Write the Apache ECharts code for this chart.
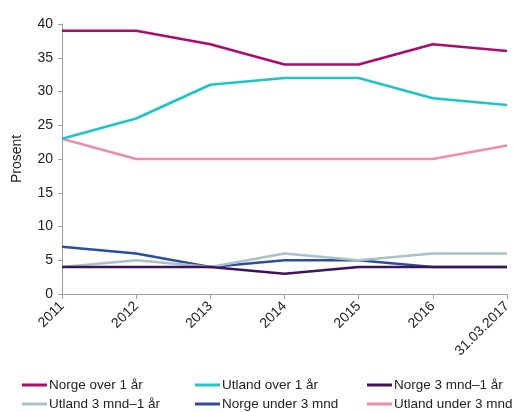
<!DOCTYPE html>
<html>
<head>
<meta charset="utf-8">
<script src="https://cdn.jsdelivr.net/npm/echarts@6/dist/echarts.min.js"></script>
<style>
  html, body { margin: 0; padding: 0; background: #fff; }
  #chart { width: 515px; height: 412px; }
</style>
</head>
<body>
<div id="chart"></div>
<script>
// Categories (years) along the x axis
const years = ['2011', '2012', '2013', '2014', '2015', '2016', '31.03.2017'];

// Share of respondents, in percent
const norgeOver1 = [39, 39, 37, 34, 34, 37, 36];
const utlandOver1 = [23, 26, 31, 32, 32, 29, 28];
const norge3mnd1 = [4, 4, 4, 3, 4, 4, 4];
const utland3mnd1 = [4, 5, 4, 6, 5, 6, 6];
const norgeUnder3 = [7, 6, 4, 5, 5, 4, 4];
const utlandUnder3 = [23, 20, 20, 20, 20, 20, 22];

const seriesNames = [
  'Norge over 1 år', 'Utland over 1 år', 'Norge 3 mnd–1 år',
  'Utland 3 mnd–1 år', 'Norge under 3 mnd', 'Utland under 3 mnd'
];
const seriesData = [norgeOver1, utlandOver1, norge3mnd1, utland3mnd1, norgeUnder3, utlandUnder3];
const colors = ['#ad0a6e', '#1dc6c6', '#3d1458', '#a8c3c8', '#2b4f9e', '#ee8cad'];

const font = 'Liberation Sans, Arial, sans-serif';

// Legend entries laid out in three columns and two rows
const legendCols = [22, 195, 367];
const legendRows = [378, 397];

const legends = seriesNames.map((name, i) => ({
  data: [name],
  left: legendCols[i % 3],
  top: legendRows[Math.floor(i / 3)],
  itemWidth: 25,
  itemHeight: 3,
  icon: 'rect',
  padding: 0,
  selectedMode: false,
  textStyle: { fontFamily: font, fontSize: 13.5, color: '#222', padding: [0, 0, 0, -3] }
}));

const chart = echarts.init(document.getElementById('chart'), null, { renderer: 'canvas' });
chart.setOption({
  animation: false,
  color: colors,
  grid: { left: 62, right: 8, top: 24, bottom: 118, containLabel: false },
  legend: legends,
  xAxis: {
    type: 'category',
    data: years,
    boundaryGap: false,
    axisLine: { lineStyle: { color: '#a0a0a0', width: 1 } },
    axisTick: { show: true, length: 5, alignWithLabel: true, lineStyle: { color: '#a0a0a0' } },
    axisLabel: {
      rotate: 45,
      margin: 10,
      interval: 0,
      fontFamily: font,
      fontSize: 14,
      color: '#222'
    }
  },
  yAxis: {
    type: 'value',
    min: 0,
    max: 40,
    interval: 5,
    name: 'Prosent',
    nameLocation: 'middle',
    nameGap: 38,
    nameTextStyle: { fontFamily: font, fontSize: 14, color: '#222' },
    axisLine: { show: true, lineStyle: { color: '#a0a0a0', width: 1 } },
    axisTick: { show: true, length: 4, lineStyle: { color: '#a0a0a0' } },
    splitLine: { show: false },
    axisLabel: { fontFamily: font, fontSize: 14, color: '#222', margin: 9 }
  },
  series: seriesNames.map((name, i) => ({
    name: name,
    type: 'line',
    data: seriesData[i],
    symbol: 'none',
    lineStyle: { width: 2.6, color: colors[i] },
    itemStyle: { color: colors[i] },
    z: 10 - i
  }))
});
</script>
</body>
</html>
